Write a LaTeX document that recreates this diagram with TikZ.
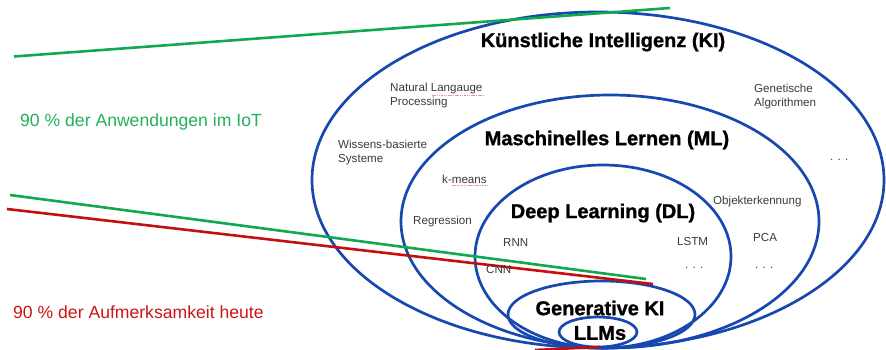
\documentclass[tikz,border=0pt]{standalone}
\usepackage{fontspec}
\setmainfont{Liberation Sans}
\newfontfamily\heavyfont[BoldFont={Liberation Sans Bold},BoldFeatures={FakeBold=1.2}]{Liberation Sans}
\definecolor{ellblue}{HTML}{1748B0}
\definecolor{lgreen}{HTML}{12A84E}
\definecolor{lred}{HTML}{C40F0F}
\definecolor{tgreen}{HTML}{22B05A}
\definecolor{tred}{HTML}{CC1414}
\definecolor{tgray}{HTML}{3A3A3A}
\tikzset{
  ell/.style={draw=ellblue, line width=2.7pt},
  gline/.style={draw=lgreen, line width=2.6pt},
  rline/.style={draw=lred, line width=2.6pt},
  title/.style={font=\heavyfont\fontsize{20}{24}\selectfont\bfseries, text=black, inner sep=0pt},
  lbl/.style={font=\fontsize{11.6}{14}\selectfont, text=tgray, anchor=west, align=left, inner sep=0pt},
  side/.style={font=\fontsize{17.6}{21}\selectfont, anchor=west, inner sep=0pt},
  spell/.style={draw=red!45, line width=0.6pt, dash pattern=on 1.5pt off 0.8pt}
}
\begin{document}
\begin{tikzpicture}[x=1pt,y=-1pt]
\useasboundingbox (0,0) rectangle (886,350);
% ellipses
\draw[ell] (598,180) ellipse [x radius=286, y radius=168];
\draw[ell] (610,221.5) ellipse [x radius=209, y radius=126.5];
\draw[ell] (603,256.5) ellipse [x radius=128, y radius=91.5];
\draw[ell] (601.5,314.5) ellipse [x radius=93.5, y radius=33.5];
\draw[ell] (598,332) ellipse [x radius=39, y radius=15];
% lines
\coordinate (g1a) at (14,56.5);
\coordinate (g1b) at (670,8);
\coordinate (g2a) at (10,195);
\coordinate (g2b) at (646,279);
\coordinate (r1a) at (7,209);
\coordinate (r1b) at (653,284);
\coordinate (r2a) at (535,350);
\coordinate (r2b) at (600,347);
\draw[gline] (g1a) -- (g1b);
\draw[gline] (g2a) -- (g2b);
\draw[rline] (r1a) -- (r1b);
\draw[rline] (r2a) -- (r2b);
% titles
\node[title] (ki) at (603,42) {Künstliche Intelligenz (KI)};
\node[title] (ml) at (607,140) {Maschinelles Lernen (ML)};
\node[title] (dl) at (603,213) {Deep Learning (DL)};
\node[title] (gen) at (600,308) {Generative KI};
\node[title] (llm) at (600,333) {LLMs};
% labels
\node[lbl] (nlp) at (390,96) {Natural Langauge\\Processing};
\node[lbl] (wbs) at (338,153) {Wissens-basierte\\Systeme};
\node[lbl] (gen2) at (754,97) {Genetische\\Algorithmen};
\node[lbl] (dots1) at (830,160) {. . .};
\node[lbl] (km) at (442,179) {k-means};
\node[lbl] (reg) at (413,222) {Regression};
\node[lbl] (rnn) at (503,243) {RNN};
\node[lbl] (cnn) at (486,270) {CNN};
\node[lbl] (obj) at (713,202) {Objekterkennung};
\node[lbl] (lstm) at (677,242) {LSTM};
\node[lbl] (pca) at (753,238) {PCA};
\node[lbl] (dots2) at (685,268) {. . .};
\node[lbl] (dots3) at (755,268) {. . .};
% spell-check marks
\draw[spell] (432,95.5) -- (484,95.5);
\draw[spell] (452,185.5) -- (488,185.5);
% side texts
\node[side, text=tgreen] (iot) at (20,122) {90 \% der Anwendungen im IoT};
\node[side, text=tred] (auf) at (13,312) {90 \% der Aufmerksamkeit heute};
\end{tikzpicture}
\end{document}
